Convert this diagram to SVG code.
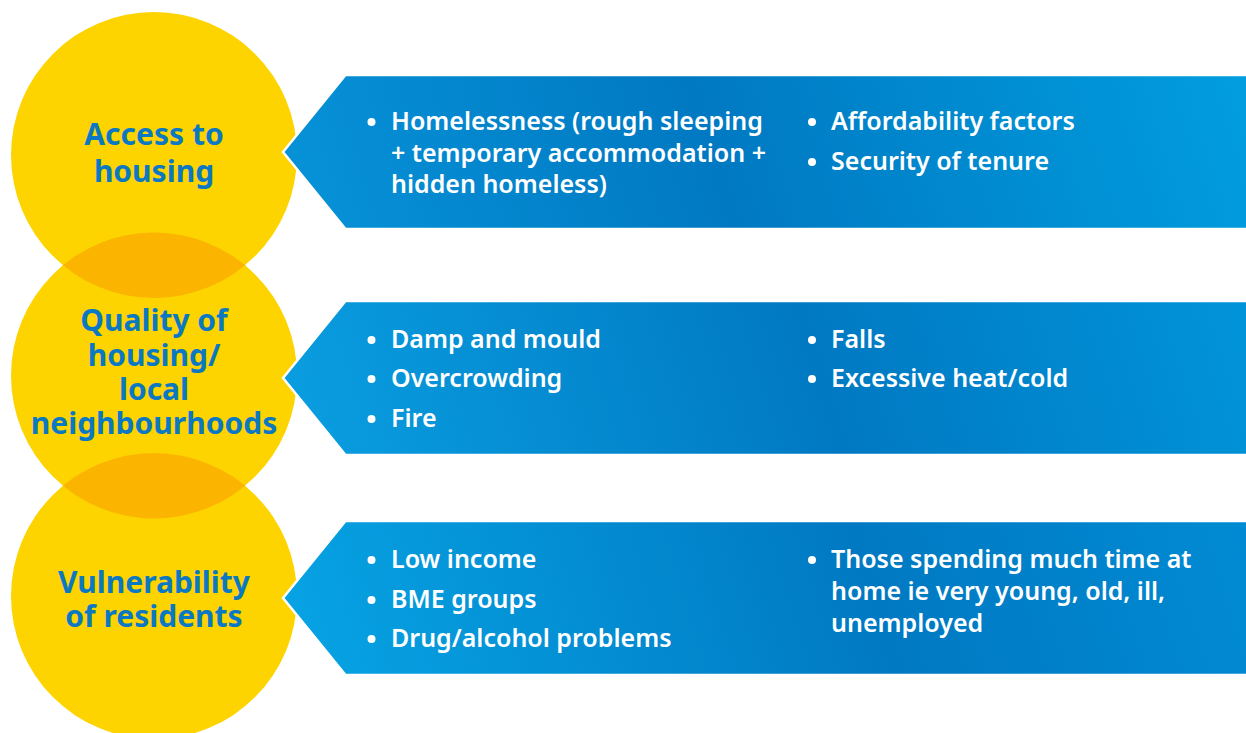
<svg xmlns="http://www.w3.org/2000/svg" width="1246" height="733" viewBox="0 0 1246 733">
<defs>
  <linearGradient id="blue1" gradientUnits="userSpaceOnUse" x1="283" y1="300" x2="1246" y2="0">
    <stop offset="0" stop-color="#0794d9"/>
    <stop offset="0.45" stop-color="#0079c2"/>
    <stop offset="1" stop-color="#019fe0"/>
  </linearGradient>
  <linearGradient id="blue2" gradientUnits="userSpaceOnUse" x1="283" y1="520" x2="1246" y2="220">
    <stop offset="0" stop-color="#0aa0e2"/>
    <stop offset="0.55" stop-color="#0079c2"/>
    <stop offset="1" stop-color="#0195da"/>
  </linearGradient>
  <linearGradient id="blue3" gradientUnits="userSpaceOnUse" x1="283" y1="740" x2="1246" y2="440">
    <stop offset="0" stop-color="#07a6e6"/>
    <stop offset="0.6" stop-color="#0079c2"/>
    <stop offset="1" stop-color="#018cd4"/>
  </linearGradient>
  <clipPath id="c1"><circle cx="154" cy="155" r="143"/></clipPath>
  <clipPath id="c2"><circle cx="154" cy="375.5" r="143"/></clipPath>
  <style>
    .circ { fill: #fdd300; }
    .lens { fill: #fbb400; }
    .band { stroke: #ffffff; stroke-width: 2.5; stroke-linejoin: miter; }
    .lbl { font-family: "Noto Sans", "DejaVu Sans", sans-serif; font-weight: 700; font-size: 30px; fill: #0a78c2; text-anchor: middle; }
    .item { font-family: "Noto Sans", "DejaVu Sans", sans-serif; font-weight: 600; font-size: 25px; fill: #ffffff; }
    .dot { fill: #ffffff; }
  </style>
</defs>
<rect width="1246" height="733" fill="#ffffff"/>

<g id="circle-access">
  <circle class="circ" cx="154" cy="155" r="143"/>
  <text class="lbl" x="154" y="145">Access to</text>
  <text class="lbl" x="154" y="182">housing</text>
</g>
<g id="circle-quality">
  <circle class="circ" cx="154" cy="375.5" r="143"/>
  <circle class="lens" cx="154" cy="375.5" r="143" clip-path="url(#c1)"/>
  <text class="lbl" x="154" y="331">Quality of</text>
  <text class="lbl" x="154" y="366">housing/</text>
  <text class="lbl" x="154" y="400">local</text>
  <text class="lbl" x="154" y="434">neighbourhoods</text>
</g>
<g id="circle-vulnerability">
  <circle class="circ" cx="154" cy="596" r="143"/>
  <circle class="lens" cx="154" cy="596" r="143" clip-path="url(#c2)"/>
  <text class="lbl" x="154" y="593">Vulnerability</text>
  <text class="lbl" x="154" y="627">of residents</text>
</g>

<g id="band-access">
  <polygon class="band" fill="url(#blue1)" points="283,152 345.5,75 1248,75 1248,229 345.5,229"/>
  <circle class="dot" cx="371.5" cy="122" r="4"/>
  <text class="item" x="391" y="130">Homelessness (rough sleeping</text>
  <text class="item" x="391" y="162">+ temporary accommodation +</text>
  <text class="item" x="391" y="193">hidden homeless)</text>
  <circle class="dot" cx="812" cy="122" r="4"/>
  <text class="item" x="831" y="130">Affordability factors</text>
  <circle class="dot" cx="812" cy="162" r="4"/>
  <text class="item" x="831" y="170">Security of tenure</text>
</g>

<g id="band-quality">
  <polygon class="band" fill="url(#blue2)" points="283,378 345.5,301 1248,301 1248,455 345.5,455"/>
  <circle class="dot" cx="371.5" cy="340" r="4"/>
  <text class="item" x="391" y="348">Damp and mould</text>
  <circle class="dot" cx="371.5" cy="379" r="4"/>
  <text class="item" x="391" y="387">Overcrowding</text>
  <circle class="dot" cx="371.5" cy="419" r="4"/>
  <text class="item" x="391" y="427">Fire</text>
  <circle class="dot" cx="812" cy="340" r="4"/>
  <text class="item" x="831" y="348">Falls</text>
  <circle class="dot" cx="812" cy="379" r="4"/>
  <text class="item" x="831" y="387">Excessive heat/cold</text>
</g>

<g id="band-vulnerability">
  <polygon class="band" fill="url(#blue3)" points="283,598 345.5,521 1248,521 1248,675 345.5,675"/>
  <circle class="dot" cx="371.5" cy="560" r="4"/>
  <text class="item" x="391" y="568">Low income</text>
  <circle class="dot" cx="371.5" cy="600" r="4"/>
  <text class="item" x="391" y="608">BME groups</text>
  <circle class="dot" cx="371.5" cy="639" r="4"/>
  <text class="item" x="391" y="647">Drug/alcohol problems</text>
  <circle class="dot" cx="812" cy="560" r="4"/>
  <text class="item" x="831" y="568">Those spending much time at</text>
  <text class="item" x="831" y="600">home ie very young, old, ill,</text>
  <text class="item" x="831" y="632">unemployed</text>
</g>

<g id="connectors"></g>
</svg>
